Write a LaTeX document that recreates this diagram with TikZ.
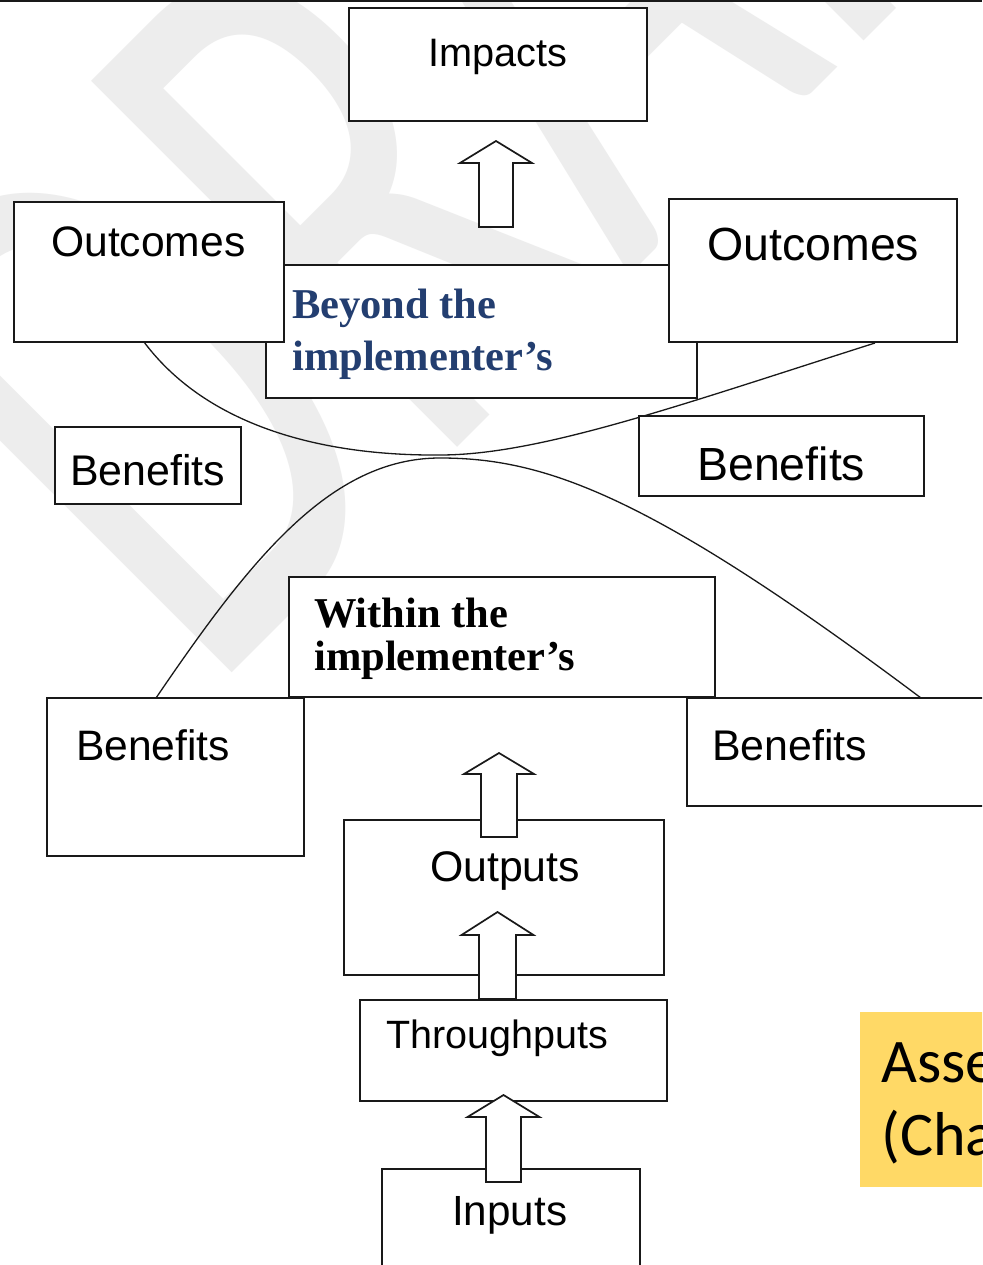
\documentclass[tikz,border=0pt]{standalone}
\usepackage{fontspec}
\usepackage{graphicx}
\setmainfont{Liberation Sans}
\newfontfamily\serifbold{Liberation Serif}[BoldFont={Liberation Serif Bold}]
\newfontfamily\calib{Carlito}
\definecolor{wmgray}{RGB}{237,237,237}
\definecolor{beyondblue}{RGB}{35,62,112}
\definecolor{notebg}{RGB}{255,217,102}
\definecolor{ink}{RGB}{25,25,25}
\newcommand\UpBlockArrow[6]{%
  \draw[blockarrow] (#1,#2) -- ({#1+#4},#3) -- ({#1+#5},#3) -- ({#1+#5},#6)
    -- ({#1-#5},#6) -- ({#1-#5},#3) -- ({#1-#4},#3) -- cycle;}
\begin{document}
\begin{tikzpicture}[x=1pt,y=-1pt,
  box/.style={draw=ink, fill=white, line width=1.8pt, rectangle, inner sep=0pt},
  blockarrow/.style={draw=ink, fill=white, line width=1.7pt, line join=miter},
  curveline/.style={draw=ink, line width=1.3pt},
  lbl/.style={inner sep=0pt, anchor=base west, text=black},
  serif lbl/.style={inner sep=0pt, anchor=base west,
    font=\serifbold\bfseries\fontsize{42.5}{44}\selectfont}]
\useasboundingbox (0,0) rectangle (982,1265);
\clip (0,0) rectangle (982,1265);
\fill[white] (0,0) rectangle (982,1265);

% watermark
\node[inner sep=0pt, anchor=base west, rotate=45, text=wmgray,
  font=\calib\fontsize{807}{807}\selectfont] (wmark) at (207,698) {\scalebox{0.638}[1]{DRAFT}};

% top rule
\draw[ink, line width=2.5pt] (0,1) -- (982,1);

% upper boxes
\node[box, minimum width=431pt, minimum height=133pt] (beyond) at (481.5,331.5) {};
\node[box, minimum width=270pt, minimum height=140pt] (outL) at (149,272) {};
\node[box, minimum width=288pt, minimum height=143pt] (outR) at (813,270.5) {};
\node[box, minimum width=298pt, minimum height=113pt] (impacts) at (498,64.5) {};

% upper curve
\coordinate (u1) at (144,342);
\coordinate (u2) at (440,455);
\coordinate (u3) at (875,343);
\draw[curveline] (u1) .. controls (210,430) and (330,456) .. (u2)
  .. controls (540,455) and (680,405) .. (u3);

\node[box, minimum width=186pt, minimum height=77pt] (benL) at (148,465.5) {};
\node[box, minimum width=285pt, minimum height=80pt] (benR) at (781.5,456) {};

% lower curve
\coordinate (l1) at (156,698);
\coordinate (l2) at (440,458);
\coordinate (l3) at (921,698);
\draw[curveline] (l1) .. controls (250,560) and (330,458) .. (l2)
  .. controls (545,458) and (650,495) .. (l3);

% middle / lower boxes
\node[box, minimum width=426pt, minimum height=120pt] (within) at (502,637) {};
\node[box, minimum width=257pt, minimum height=158pt] (benLL) at (175.5,777) {};
\node[box, minimum width=313pt, minimum height=108pt] (benLR) at (843.5,752) {};
\node[box, minimum width=320pt, minimum height=155pt] (outputs) at (504,897.5) {};
\node[box, minimum width=307pt, minimum height=101pt] (through) at (513.5,1050.5) {};
\node[box, minimum width=258pt, minimum height=121pt] (inputs) at (511,1229.5) {};

% block arrows
\UpBlockArrow{496}{141}{163}{36}{17}{227}
\UpBlockArrow{499}{753}{774}{35}{18}{837}
\UpBlockArrow{497.5}{912}{935}{36}{18.5}{999}
\UpBlockArrow{503.5}{1095}{1117}{36}{17.5}{1182}

% labels
\node[lbl, font=\fontsize{39.7}{44}\selectfont] (tImpacts) at (428,67) {Impacts};
\node[lbl, font=\fontsize{42.6}{48}\selectfont] (tOutL) at (51,257) {Outcomes};
\node[lbl, font=\fontsize{46.5}{52}\selectfont] (tOutR) at (707,260) {Outcomes};
\node[serif lbl, text=beyondblue] (tBeyond1) at (292,318) {Beyond the};
\node[serif lbl, text=beyondblue] (tBeyond2) at (292,370) {implementer’s};
\node[lbl, font=\fontsize{42.9}{48}\selectfont] (tBenL) at (70,485) {Benefits};
\node[lbl, font=\fontsize{46.5}{52}\selectfont] (tBenR) at (697,480) {Benefits};
\node[serif lbl] (tWithin1) at (314,627) {Within the};
\node[serif lbl] (tWithin2) at (314,670) {implementer’s};
\node[lbl, font=\fontsize{42.6}{48}\selectfont] (tBenLL) at (76,760) {Benefits};
\node[lbl, font=\fontsize{42.9}{48}\selectfont] (tBenLR) at (712,760) {Benefits};
\node[lbl, font=\fontsize{42.8}{48}\selectfont] (tOutputs) at (430,881) {Outputs};
\node[lbl, font=\fontsize{39.5}{44}\selectfont] (tThrough) at (386,1048) {Throughputs};
\node[lbl, font=\fontsize{42.2}{48}\selectfont] (tInputs) at (452,1225) {Inputs};

% yellow note
\node[fill=notebg, inner sep=0pt, minimum width=140pt, minimum height=175pt, anchor=north west] (note) at (860,1012) {};
\node[lbl, font=\calib\fontsize{62}{74}\selectfont] (tNote1) at (881,1082) {Asse};
\node[lbl, font=\calib\fontsize{62}{74}\selectfont] (tNote2) at (881,1155) {(Cha};
\end{tikzpicture}
\end{document}
